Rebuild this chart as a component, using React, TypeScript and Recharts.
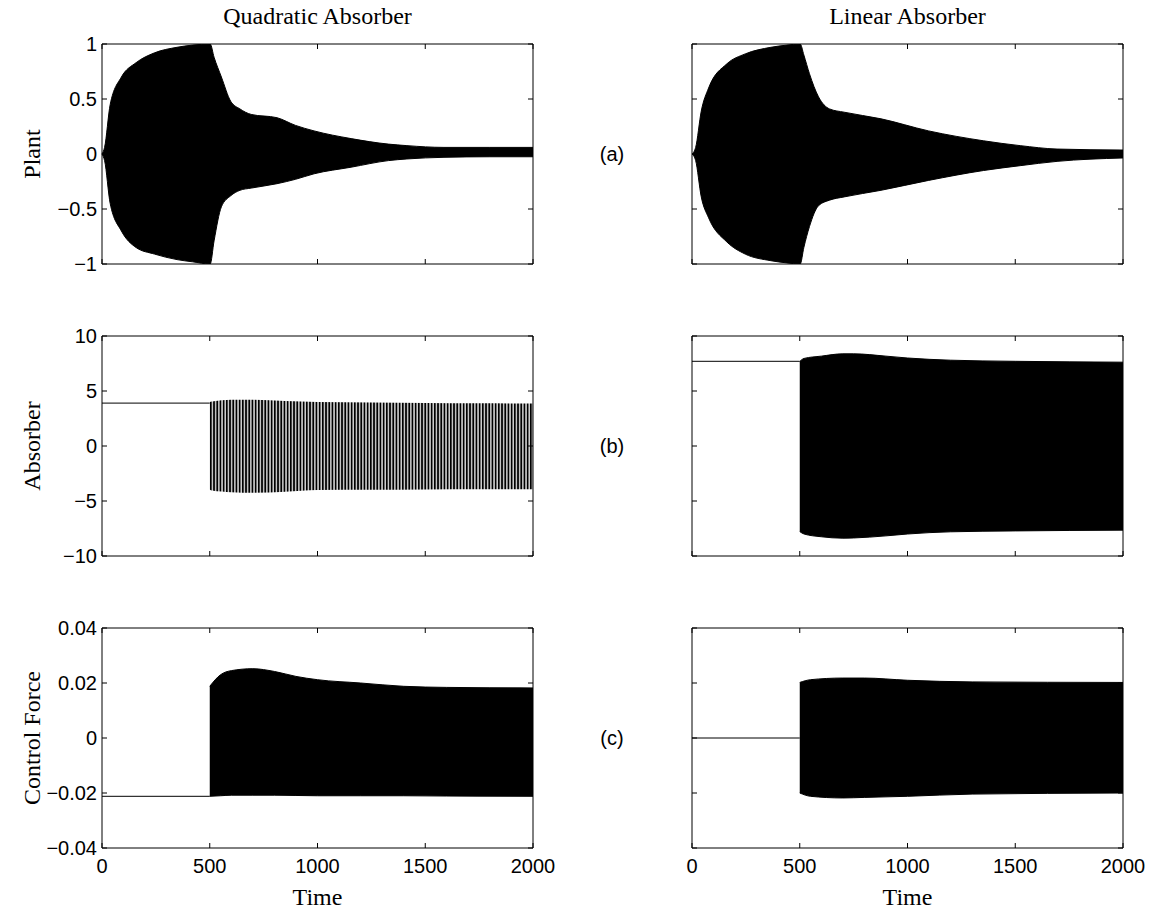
import React from 'react';
import { ComposedChart, Area, Line, XAxis, YAxis, ReferenceArea } from 'recharts';

// plot box geometry (pixels)
const PW = 431;
const PH = 220;
const COL_X = [102, 692];
const ROW_Y = [44, 336, 628];

const SANS = '"Liberation Sans", Arial, Helvetica, sans-serif';
const SERIF = '"Liberation Serif", "Times New Roman", Times, serif';

// shared axis ticks
const timeTicks = [0, 500, 1000, 1500, 2000];
const plantTicks = [-1, -0.5, 0, 0.5, 1];
const absorberTicks = [-10, -5, 0, 5, 10];
const forceTicks = [-0.04, -0.02, 0, 0.02, 0.04];

// (a) plant, quadratic absorber: envelope of the oscillation
const pqTime = [0, 12, 38, 90, 158, 244, 348, 420, 502, 520, 554, 597, 640, 692, 812, 898, 984, 1156, 1329, 1415, 1587, 1800, 2000];
const pqUpper = [0, 0.06, 0.45, 0.7, 0.83, 0.92, 0.97, 0.99, 1.0, 0.88, 0.7, 0.48, 0.41, 0.36, 0.33, 0.26, 0.21, 0.14, 0.09, 0.076, 0.06, 0.06, 0.06];
const pqLower = [0, -0.06, -0.45, -0.7, -0.85, -0.91, -0.96, -0.98, -1.0, -0.79, -0.48, -0.38, -0.33, -0.31, -0.27, -0.23, -0.18, -0.12, -0.06, -0.045, -0.03, -0.025, -0.025];

// (a) plant, linear absorber
const plTime = [0, 17, 43, 77, 162, 247, 366, 440, 502, 519, 545, 587, 638, 706, 877, 1098, 1353, 1523, 1694, 2000];
const plUpper = [0, 0.06, 0.39, 0.6, 0.82, 0.91, 0.97, 0.99, 1.0, 0.9, 0.73, 0.52, 0.41, 0.38, 0.32, 0.21, 0.12, 0.076, 0.045, 0.036];
const plLower = [0, -0.06, -0.39, -0.58, -0.8, -0.91, -0.97, -0.99, -1.0, -0.85, -0.66, -0.47, -0.42, -0.39, -0.33, -0.24, -0.15, -0.106, -0.067, -0.036];

// (b) absorber, quadratic
const aqFlatTime = [0, 500];
const aqFlat = [3.9, 3.9];
const aqTime = [500, 510, 600, 700, 850, 1000, 1250, 1500, 1750, 2000];
const aqUpper = [4.0, 4.05, 4.2, 4.2, 4.1, 4.0, 3.95, 3.9, 3.88, 3.87];
const aqLower = [-3.95, -4.05, -4.2, -4.25, -4.15, -4.0, -3.98, -3.95, -3.93, -3.93];

// (b) absorber, linear
const alFlatTime = [0, 500];
const alFlat = [7.7, 7.7];
const alTime = [500, 520, 600, 700, 750, 900, 1000, 1200, 1500, 2000];
const alUpper = [7.69, 7.96, 8.17, 8.38, 8.38, 8.17, 8.0, 7.8, 7.7, 7.62];
const alLower = [-7.78, -8.0, -8.25, -8.38, -8.36, -8.17, -8.0, -7.8, -7.72, -7.65];

// (c) control force, quadratic
const fqFlatTime = [0, 500];
const fqFlat = [-0.0212, -0.0212];
const fqTime = [500, 550, 600, 700, 800, 900, 1000, 1200, 1400, 1600, 2000];
const fqUpper = [0.0188, 0.023, 0.0245, 0.0252, 0.0242, 0.0224, 0.0212, 0.02, 0.0188, 0.0184, 0.0182];
const fqLower = [-0.0212, -0.021, -0.0208, -0.0208, -0.0208, -0.0209, -0.021, -0.021, -0.021, -0.0211, -0.0212];

// (c) control force, linear
const flFlatTime = [0, 500];
const flFlat = [0, 0];
const flTime = [500, 550, 700, 800, 1000, 1300, 2000];
const flUpper = [0.0202, 0.0212, 0.0218, 0.0218, 0.021, 0.0204, 0.0202];
const flLower = [-0.02, -0.0212, -0.0218, -0.0216, -0.0212, -0.0204, -0.02];

type Row = { t: number; hi?: number; lo?: number; flat?: number };

function buildRows(t: number[], hi: number[], lo: number[], ft: number[] = [], fv: number[] = []): Row[] {
  const map = new Map<number, Row>();
  const get = (x: number) => {
    if (!map.has(x)) map.set(x, { t: x });
    return map.get(x)!;
  };
  t.forEach((x, i) => {
    const r = get(x);
    r.hi = hi[i];
    r.lo = lo[i];
  });
  ft.forEach((x, i) => {
    get(x).flat = fv[i];
  });
  return Array.from(map.values()).sort((a, b) => a.t - b.t);
}

const fmt = (v: number) => {
  const s = String(Math.abs(v));
  return v < 0 ? '\u2212' + s : s;
};

const makeXTick = (showLabel: boolean) => (props: any) => {
  const { x, y, payload } = props;
  return (
    <g>
      <line x1={x} y1={y} x2={x} y2={y - 5} stroke="#000" />
      <line x1={x} y1={y - PH} x2={x} y2={y - PH + 5} stroke="#000" />
      {showLabel && (
        <text x={x} y={y + 25} textAnchor="middle" fontFamily={SANS} fontSize={20} fill="#000">
          {payload.value}
        </text>
      )}
    </g>
  );
};

const makeYTick = (showLabel: boolean) => (props: any) => {
  const { x, y, payload } = props;
  return (
    <g>
      <line x1={x} y1={y} x2={x + 5} y2={y} stroke="#000" />
      <line x1={x + PW} y1={y} x2={x + PW - 5} y2={y} stroke="#000" />
      {showLabel && (
        <text x={x - 5} y={y} dy="0.36em" textAnchor="end" fontFamily={SANS} fontSize={20} fill="#000">
          {fmt(payload.value)}
        </text>
      )}
    </g>
  );
};

interface PanelProps {
  rows: Row[];
  domain: [number, number];
  yTicks: number[];
  col: number;
  row: number;
  striped?: boolean;
}

const Panel: React.FC<PanelProps> = ({ rows, domain, yTicks, col, row, striped }) => {
  const left = COL_X[col] - 100;
  const top = ROW_Y[row] - 12;
  const pid = `stripes-${col}-${row}`;
  return (
    <div style={{ position: 'absolute', left, top }}>
      <ComposedChart width={100 + PW + 30} height={12 + PH + 34} data={rows} margin={{ top: 12, right: 30, bottom: 0, left: 0 }}>
        <defs>
          <pattern id={pid} width={3.2} height={10} patternUnits="userSpaceOnUse">
            <rect x={0} y={0} width={3.2} height={10} fill="#d0d0d0" />
            <rect x={0} y={0} width={1.7} height={10} fill="#000" />
          </pattern>
        </defs>
        <XAxis
          dataKey="t"
          type="number"
          domain={[0, 2000]}
          ticks={timeTicks}
          interval={0}
          height={34}
          axisLine={false}
          tickLine={false}
          tickSize={0}
          tickMargin={0}
          tick={makeXTick(row === 2)}
        />
        <YAxis
          type="number"
          domain={domain}
          ticks={yTicks}
          interval={0}
          width={100}
          axisLine={false}
          tickLine={false}
          tickSize={0}
          tickMargin={0}
          allowDataOverflow
          tick={makeYTick(col === 0)}
        />
        <Area
          type="monotoneX"
          dataKey={(d: Row) => (d.hi == null ? null : [d.lo, d.hi])}
          fill={striped ? `url(#${pid})` : '#000'}
          fillOpacity={1}
          stroke={striped ? 'none' : '#000'}
          strokeWidth={1}
          dot={false}
          activeDot={false}
          isAnimationActive={false}
        />
        <Line
          type="linear"
          dataKey="flat"
          stroke="#000"
          strokeWidth={1}
          dot={false}
          activeDot={false}
          isAnimationActive={false}
        />
        <ReferenceArea x1={0} x2={2000} y1={domain[0]} y2={domain[1]} fill="none" stroke="#000" strokeWidth={1} ifOverflow="visible" />
      </ComposedChart>
    </div>
  );
};

const pqRows = buildRows(pqTime, pqUpper, pqLower);
const plRows = buildRows(plTime, plUpper, plLower);
const aqRows = buildRows(aqTime, aqUpper, aqLower, aqFlatTime, aqFlat);
const alRows = buildRows(alTime, alUpper, alLower, alFlatTime, alFlat);
const fqRows = buildRows(fqTime, fqUpper, fqLower, fqFlatTime, fqFlat);
const flRows = buildRows(flTime, flUpper, flLower, flFlatTime, flFlat);

const yLabels = ['Plant', 'Absorber', 'Control Force'];
const rowTags = ['(a)', '(b)', '(c)'];
const colTitles = ['Quadratic Absorber', 'Linear Absorber'];

export default function App() {
  return (
    <div style={{ position: 'absolute', left: 0, top: 0, width: 1153, height: 911, background: '#fff' }}>
      <Panel rows={pqRows} domain={[-1, 1]} yTicks={plantTicks} col={0} row={0} />
      <Panel rows={plRows} domain={[-1, 1]} yTicks={plantTicks} col={1} row={0} />
      <Panel rows={aqRows} domain={[-10, 10]} yTicks={absorberTicks} col={0} row={1} striped />
      <Panel rows={alRows} domain={[-10, 10]} yTicks={absorberTicks} col={1} row={1} />
      <Panel rows={fqRows} domain={[-0.04, 0.04]} yTicks={forceTicks} col={0} row={2} />
      <Panel rows={flRows} domain={[-0.04, 0.04]} yTicks={forceTicks} col={1} row={2} />
      <svg width={1153} height={911} style={{ position: 'absolute', left: 0, top: 0, pointerEvents: 'none' }}>
        {colTitles.map((s, i) => (
          <text key={s} x={COL_X[i] + PW / 2} y={24} textAnchor="middle" fontFamily={SERIF} fontSize={24} fill="#000">
            {s}
          </text>
        ))}
        {colTitles.map((s, i) => (
          <text key={'time' + i} x={COL_X[i] + PW / 2} y={905} textAnchor="middle" fontFamily={SERIF} fontSize={24} fill="#000">
            Time
          </text>
        ))}
        {yLabels.map((s, i) => (
          <text
            key={s}
            transform={`translate(40, ${ROW_Y[i] + PH / 2}) rotate(-90)`}
            textAnchor="middle"
            fontFamily={SERIF}
            fontSize={24}
            fill="#000"
          >
            {s}
          </text>
        ))}
        {rowTags.map((s, i) => (
          <text key={s} x={612} y={ROW_Y[i] + PH / 2} dy="0.36em" textAnchor="middle" fontFamily={SANS} fontSize={20} fill="#000">
            {s}
          </text>
        ))}
      </svg>
    </div>
  );
}
